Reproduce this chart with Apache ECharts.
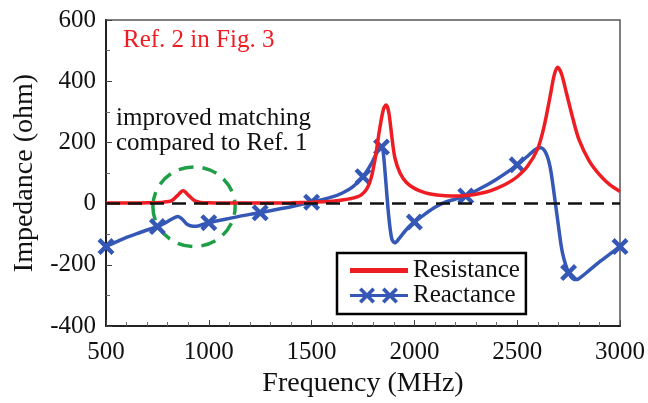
<!DOCTYPE html>
<html>
<head>
<meta charset="utf-8">
<script src="https://cdn.jsdelivr.net/npm/echarts@6/dist/echarts.min.js"></script>
<style>
  html, body { margin: 0; padding: 0; background: #fff; }
  #chart { width: 648px; height: 403px; }
</style>
</head>
<body>
<div id="chart"></div>
<script>
// Frequency sweep (MHz) and impedance (ohm)
var resistanceFreq = [500, 600, 700, 780, 820, 850, 875, 900, 930, 960, 1000, 1100, 1200, 1300, 1400, 1500, 1600, 1650, 1700, 1740, 1770, 1790, 1810, 1830, 1850, 1862, 1875, 1890, 1905, 1930, 1960, 2000, 2050, 2100, 2150, 2200, 2250, 2300, 2350, 2400, 2450, 2500, 2550, 2600, 2630, 2660, 2680, 2697, 2715, 2740, 2770, 2800, 2850, 2900, 2950, 3000];
var resistanceVal = [2, 2, 3, 5, 10, 28, 42, 28, 10, 4, 3, 2, 2, 2, 3, 5, 8, 12, 18, 28, 50, 85, 150, 240, 310, 322, 300, 220, 150, 100, 70, 50, 36, 29, 26, 25, 27, 31, 38, 50, 66, 88, 122, 180, 250, 350, 420, 446, 425, 360, 280, 210, 140, 95, 62, 40];

var reactanceFreq = [500, 550, 600, 650, 700, 750, 790, 820, 850, 870, 890, 910, 940, 970, 1000, 1100, 1200, 1250, 1300, 1400, 1500, 1600, 1650, 1700, 1750, 1790, 1820, 1840, 1848, 1860, 1875, 1890, 1905, 1930, 1960, 2000, 2050, 2100, 2150, 2200, 2250, 2300, 2350, 2400, 2450, 2500, 2550, 2590, 2615, 2640, 2660, 2680, 2700, 2720, 2750, 2780, 2800, 2850, 2900, 2950, 3000];
var reactanceVal = [-140, -125, -110, -98, -86, -75, -62, -50, -42, -50, -65, -72, -74, -68, -62, -48, -35, -30, -23, -10, 5, 22, 35, 55, 88, 130, 170, 185, 170, 80, -40, -115, -128, -110, -85, -60, -35, -12, 5, 15, 25, 42, 60, 80, 102, 127, 155, 178, 183, 165, 120, 30, -70, -160, -225, -248, -245, -218, -190, -165, -140];
// frequencies where the reactance curve carries a cross marker
var reactanceMarkerFreq = [500, 750, 1000, 1250, 1500, 1750, 1840, 2000, 2250, 2500, 2750, 3000];

var xTicks = { min: 500, max: 3000, interval: 500 };
var yTicks = { min: -400, max: 600, interval: 200 };

// highlighted region: centre (MHz, ohm) and half extents
var highlightCenter = [928, -10];
var highlightHalfSize = [200, 130];

var RED = '#ee1d23';
var BLUE = '#3558b6';
var GREEN = '#1f9e48';
var FONT = 'Liberation Serif';

// filled cross glyph
var CROSS = 'path://M0,2.2L2.2,0L6,3.8L9.8,0L12,2.2L8.2,6L12,9.8L9.8,12L6,8.2L2.2,12L0,9.8L3.8,6Z';
function crossAt(ox, s, t) {
  var h = s / 2;
  var p = [[0, t], [t, 0], [h, h - t], [s - t, 0], [s, t], [h + t, h], [s, s - t], [s - t, s], [h, h + t], [t, s], [0, s - t], [h - t, h]];
  return 'M' + p.map(function (q) { return (q[0] + ox) + ',' + q[1]; }).join('L') + 'Z';
}
var legendReactIcon = 'path://M0,6.5L58,6.5L58,9.5L0,9.5Z' + crossAt(9, 16, 2.6) + crossAt(32, 16, 2.6);
var legendResistIcon = 'path://M0,0L0.01,0.01Z M0,5.5L58,5.5L58,10.5L0,10.5Z M58,16L57.99,15.99Z';

var resistanceData = resistanceFreq.map(function (f, i) { return [f, resistanceVal[i]]; });
var reactanceData = reactanceFreq.map(function (f, i) {
  var marked = reactanceMarkerFreq.indexOf(f) >= 0;
  return { value: [f, reactanceVal[i]], symbol: marked ? CROSS : 'none', symbolSize: 17 };
});

var chart = echarts.init(document.getElementById('chart'), null, { renderer: 'canvas' });
chart.setOption({
  animation: false,
  backgroundColor: '#fff',
  grid: { left: 106, right: 28, top: 20, bottom: 76, show: true, borderColor: '#555', borderWidth: 1.5, backgroundColor: 'transparent' },
  title: [
    { text: 'Ref. 2 in Fig. 3', left: 123, top: 28, textStyle: { color: RED, fontFamily: FONT, fontSize: 25, fontWeight: 'normal' }, padding: 0 },
    { text: 'improved matching\ncompared to Ref. 1', left: 116, top: 106, textStyle: { color: '#111', fontFamily: FONT, fontSize: 25, lineHeight: 25, fontWeight: 'normal' }, padding: 0 }
  ],
  legend: {
    orient: 'vertical', left: 337, top: 253,
    padding: [5, 6, 6, 13], itemGap: 0,
    itemWidth: 58, itemHeight: 16, itemStyle: { borderWidth: 0 },
    borderColor: '#000', borderWidth: 2.5, backgroundColor: '#fff',
    textStyle: { fontFamily: FONT, fontSize: 25, color: '#111', lineHeight: 25 },
    data: [
      { name: 'Resistance', icon: legendResistIcon },
      { name: 'Reactance', icon: legendReactIcon }
    ]
  },
  xAxis: {
    type: 'value', min: xTicks.min, max: xTicks.max, interval: xTicks.interval,
    name: 'Frequency (MHz)', nameLocation: 'middle', nameGap: 37,
    nameTextStyle: { fontFamily: FONT, fontSize: 28, color: '#111' },
    axisLine: { onZero: false, lineStyle: { color: '#222', width: 2 } },
    axisTick: { inside: true, length: 6, lineStyle: { color: '#444' } },
    minorTick: { show: true, splitNumber: 5, length: 4, lineStyle: { color: '#666' } },
    splitLine: { show: false },
    axisLabel: { margin: 14, fontFamily: FONT, fontSize: 25, color: '#111', formatter: function (v) { return String(v); } }
  },
  yAxis: {
    type: 'value', min: yTicks.min, max: yTicks.max, interval: yTicks.interval,
    name: 'Impedance (ohm)', nameLocation: 'middle', nameGap: 67,
    nameTextStyle: { fontFamily: FONT, fontSize: 28, color: '#111' },
    axisLine: { onZero: false, lineStyle: { color: '#222', width: 2 } },
    axisTick: { inside: true, length: 6, lineStyle: { color: '#444' } },
    minorTick: { show: true, splitNumber: 2, length: 4, lineStyle: { color: '#666' } },
    splitLine: { show: false },
    axisLabel: { margin: 10, fontFamily: FONT, fontSize: 25, color: '#111', formatter: function (v) { return String(v); } }
  },
  series: [
    {
      type: 'custom', name: 'highlight', silent: true, z: 1,
      data: [highlightCenter],
      renderItem: function (params, api) {
        var c = api.coord([api.value(0), api.value(1)]);
        var s = api.size(highlightHalfSize);
        return {
          type: 'ellipse',
          shape: { cx: c[0], cy: c[1], rx: s[0], ry: s[1] },
          style: { fill: 'none', stroke: GREEN, lineWidth: 3.5, lineDash: [15, 9] }
        };
      }
    },
    {
      name: 'Reactance', type: 'line', z: 2, smooth: 0.3, showAllSymbol: true,
      data: reactanceData,
      symbolKeepAspect: false,
      lineStyle: { color: BLUE, width: 3.5 },
      itemStyle: { color: BLUE }
    },
    {
      name: 'Resistance', type: 'line', z: 3, smooth: 0.3, showSymbol: false,
      data: resistanceData,
      lineStyle: { color: RED, width: 3.5 },
      itemStyle: { color: RED },
      markLine: {
        silent: true, symbol: ['none', 'none'], label: { show: false },
        lineStyle: { color: '#111', type: [14, 8], width: 2.5 },
        data: [{ yAxis: 0 }]
      }
    }
  ]
});
</script>
</body>
</html>
